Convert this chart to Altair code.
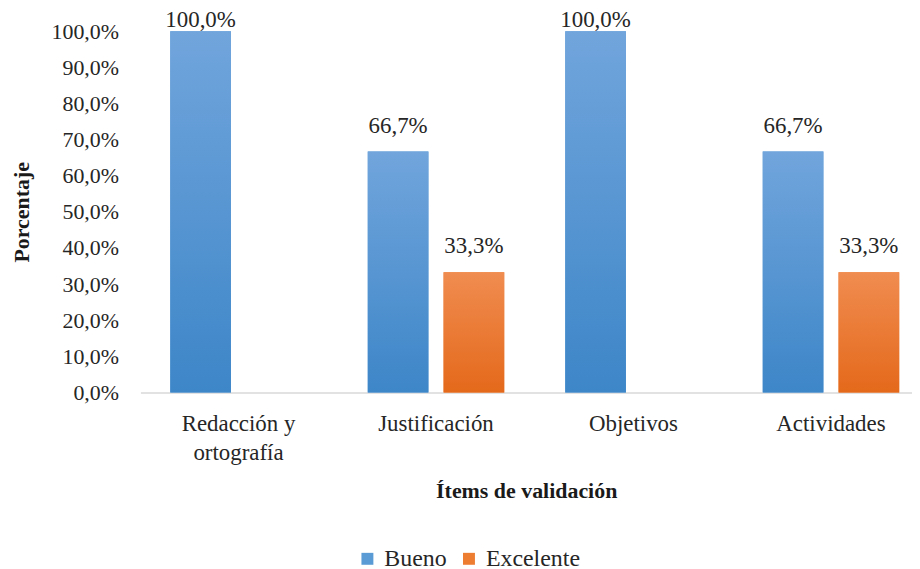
import altair as alt
import pandas as pd

categories = ["Redacción y ortografía", "Justificación", "Objetivos", "Actividades"]
bueno = [100.0, 66.7, 100.0, 66.7]
excelente = [0.0, 33.3, 0.0, 33.3]
series = ["Bueno", "Excelente"]
colors = ["#5b9bd5", "#ed7d31"]

rows = []
for c, b, e in zip(categories, bueno, excelente):
    rows.append({"item": c, "serie": "Bueno", "valor": b})
    rows.append({"item": c, "serie": "Excelente", "valor": e})
df = pd.DataFrame(rows)

FONT = "'Liberation Serif', 'Times New Roman', serif"
FS = 22

grad_blue = {"gradient": "linear", "x1": 0, "y1": 0, "x2": 0, "y2": 1,
             "stops": [{"offset": 0, "color": "#71a5dc"}, {"offset": 1, "color": "#3d86c8"}]}
grad_orange = {"gradient": "linear", "x1": 0, "y1": 0, "x2": 0, "y2": 1,
               "stops": [{"offset": 0, "color": "#f08c50"}, {"offset": 1, "color": "#e4691b"}]}

x_enc = alt.X("item:N", sort=categories,
              scale=alt.Scale(paddingInner=0.309, paddingOuter=0.108, align=0.7),
              axis=alt.Axis(title="Ítems de validación", labelAngle=0, ticks=False,
                            domainColor="#d9d9d9", domainWidth=1.5,
                            labelPadding=20, labelLineHeight=29, labelFontSize=23,
                            labelExpr="datum.label == 'Redacción y ortografía' ? ['Redacción y', 'ortografía'] : datum.label",
                            titlePadding=16))
xo_enc = alt.XOffset("serie:N", sort=series, scale=alt.Scale(paddingInner=0.2, paddingOuter=0))
y_enc = alt.Y("valor:Q", scale=alt.Scale(domain=[0, 100]),
              axis=alt.Axis(title="Porcentaje", values=list(range(0, 101, 10)), grid=False,
                            domain=False, ticks=False, labelPadding=22, titlePadding=18,
                            labelExpr="replace(format(datum.value, '.1f'), '.', ',') + '%'"))

base = alt.Chart(df)

legend_bars = base.mark_bar().encode(
    x=x_enc, xOffset=xo_enc, y=y_enc,
    color=alt.Color("serie:N", sort=series,
                    scale=alt.Scale(domain=series, range=colors),
                    legend=alt.Legend(title=None, orient="none", direction="horizontal",
                                      legendX=216, legendY=518, symbolType="square",
                                      symbolSize=144, symbolStrokeWidth=0,
                                      labelFont=FONT, labelFontSize=24, labelColor="#262626",
                                      columnPadding=10, labelOffset=5)),
)

blue_bars = base.transform_filter("datum.serie == 'Bueno'").mark_bar(fill=grad_blue).encode(
    x=x_enc, xOffset=xo_enc, y=y_enc)
orange_bars = base.transform_filter("datum.serie == 'Excelente'").mark_bar(fill=grad_orange).encode(
    x=x_enc, xOffset=xo_enc, y=y_enc)

lab_base = base.transform_calculate(
    etiqueta="replace(format(datum.valor, '.1f'), '.', ',') + '%'"
)
labels_low = lab_base.transform_filter("datum.valor > 0 && datum.valor < 100").mark_text(
    baseline="bottom", dy=-14, font=FONT, fontSize=23, color="#262626").encode(
    x=x_enc, xOffset=xo_enc, y=y_enc, text="etiqueta:N")
labels_top = lab_base.transform_filter("datum.valor >= 100").mark_text(
    baseline="bottom", dy=1, font=FONT, fontSize=23, color="#262626").encode(
    x=x_enc, xOffset=xo_enc, y=y_enc, text="etiqueta:N")

chart = alt.layer(legend_bars, blue_bars, orange_bars, labels_low, labels_top).properties(
    width=775, height=363,
    padding={"left": 2, "top": 0, "right": 0, "bottom": 0},
).configure_view(stroke=None).configure_axis(
    labelFont=FONT, labelFontSize=FS, labelColor="#262626",
    titleFont=FONT, titleFontSize=FS, titleFontWeight="bold", titleColor="#1a1a1a",
)

chart.save("out.html", embed_options={"renderer": "svg", "actions": False})
